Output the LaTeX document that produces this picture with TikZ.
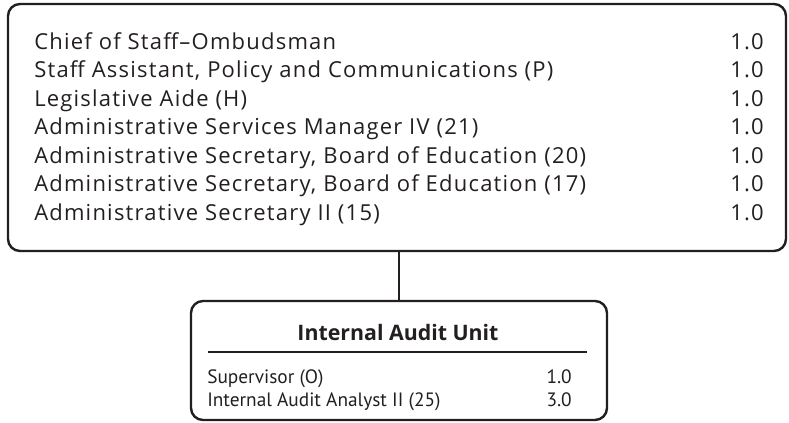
\documentclass[tikz,border=0pt]{standalone}
\usepackage{fontspec}
\setmainfont{Open Sans}
\newfontfamily\widesans[LetterSpace=5.5]{Open Sans}
\newfontfamily\narrowsans{PT Sans}
\usetikzlibrary{fit}
\definecolor{ink}{RGB}{35,31,32}
\tikzset{
  unitbox/.style={draw=ink, line width=1.8pt, rounded corners=9pt, inner sep=0pt},
  link/.style={draw=ink, line width=1.8pt},
  rulebar/.style={draw=ink, line width=0.8pt},
  post/.style={anchor=base west, inner sep=0pt, text=ink, font=\widesans\fontsize{16.5}{19}\selectfont},
  fte/.style={anchor=base east, inner sep=0pt, text=ink, font=\widesans\fontsize{16.5}{19}\selectfont},
  subpost/.style={anchor=base west, inner sep=0pt, text=ink, font=\narrowsans\fontsize{14.5}{18}\selectfont},
  subfte/.style={anchor=base east, inner sep=0pt, text=ink, font=\narrowsans\fontsize{14.5}{18}\selectfont},
  unittitle/.style={anchor=base, inner sep=0pt, text=ink, font=\bfseries\fontsize{16}{19}\selectfont}
}
\begin{document}
\begin{tikzpicture}[x=0.75pt,y=-0.75pt]
\useasboundingbox (0,0) rectangle (789,422);

% office of the board
\coordinate (officeNW) at (8,4);
\coordinate (officeSE) at (786,251);
\node[unitbox, fit=(officeNW)(officeSE)] (office) {};
\foreach \job/\num [count=\i] in {Chief of Staff–Ombudsman/1.0,
    {Staff Assistant, Policy and Communications (P)}/1.0,
    Legislative Aide (H)/1.0,
    Administrative Services Manager IV (21)/1.0,
    {Administrative Secretary, Board of Education (20)}/1.0,
    {Administrative Secretary, Board of Education (17)}/1.0,
    Administrative Secretary II (15)/1.0}{
  \node[post] (post\i) at (34,{49+28.5*(\i-1)}) {\job};
  \node[fte] (fte\i) at (764,{49+28.5*(\i-1)}) {\num};
}

% internal audit unit
\coordinate (auditNW) at (191,301);
\coordinate (auditSE) at (607,420);
\node[unitbox, fit=(auditNW)(auditSE)] (audit) {};
\node[unittitle] (audittitle) at (398,340) {Internal Audit Unit};
\draw[rulebar] (208,352) -- (587,352);
\node[subpost] (sub1) at (207,383) {Supervisor (O)};
\node[subfte] (subfte1) at (572,383) {1.0};
\node[subpost] (sub2) at (207,406) {Internal Audit Analyst II (25)};
\node[subfte] (subfte2) at (572,406) {3.0};

\draw[link] (audit.north |- office.south) -- (audit.north);
\end{tikzpicture}
\end{document}
